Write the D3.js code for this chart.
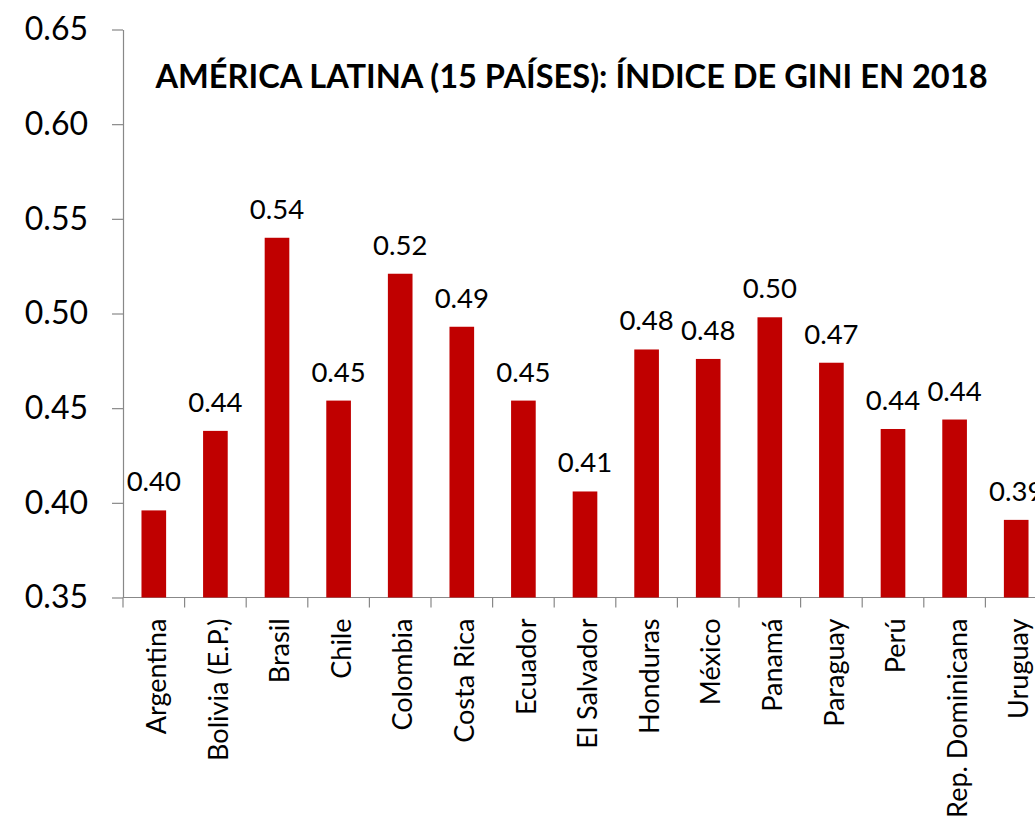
<!DOCTYPE html>
<html>
<head>
<meta charset="utf-8">
<script src="https://d3js.org/d3.v7.min.js"></script>
<style>
  body { margin: 0; background: #fff; }
  svg { display: block; font-family: Lato, "Open Sans", sans-serif; }
</style>
</head>
<body>
<script>
// Chart data
var countries = ["Argentina", "Bolivia (E.P.)", "Brasil", "Chile", "Colombia", "Costa Rica",
  "Ecuador", "El Salvador", "Honduras", "México", "Panamá", "Paraguay", "Perú",
  "Rep. Dominicana", "Uruguay"];
var gini = [0.396, 0.438, 0.540, 0.454, 0.521, 0.493, 0.454, 0.406, 0.481, 0.476,
  0.498, 0.474, 0.439, 0.444, 0.391];
var yTicks = [0.35, 0.40, 0.45, 0.50, 0.55, 0.60, 0.65];
var title = "AMÉRICA LATINA (15 PAÍSES): ÍNDICE DE GINI EN 2018";

var svgWidth = 1035;
var svgHeight = 822;

var margin = { top: 29.5, left: 123 };
var chartWidth = 924;
var chartHeight = 568;

var svg = d3.select("body")
  .append("svg")
  .attr("width", svgWidth)
  .attr("height", svgHeight);

var chartGroup = svg.append("g")
  .attr("transform", `translate(${margin.left}, ${margin.top})`);

var xScale = d3.scaleBand()
  .domain(countries)
  .range([0, chartWidth])
  .paddingInner(0.6)
  .paddingOuter(0.3);

var yScale = d3.scaleLinear()
  .domain([0.35, 0.65])
  .range([chartHeight, 0]);

// y axis
var leftAxis = d3.axisLeft(yScale)
  .tickValues(yTicks)
  .tickFormat(d3.format(".2f"))
  .tickSizeInner(11)
  .tickSizeOuter(0)
  .tickPadding(24);

var yAxis = chartGroup.append("g").call(leftAxis);
yAxis.select(".domain").attr("stroke", "#888").attr("stroke-width", 1.2);
yAxis.selectAll(".tick line").attr("stroke", "#888").attr("stroke-width", 1.2);
yAxis.selectAll(".tick text")
  .attr("fill", "#000")
  .style("font-size", "32px")
  .style("font-family", "Lato, sans-serif");

// x axis: ticks at category boundaries
var step = xScale.step();
var bounds = d3.range(countries.length + 1).map(i => i * step);

chartGroup.append("line")
  .attr("x1", 0).attr("x2", chartWidth)
  .attr("y1", chartHeight).attr("y2", chartHeight)
  .attr("stroke", "#888").attr("stroke-width", 1.2);

chartGroup.selectAll(".xtick")
  .data(bounds)
  .enter()
  .append("line")
  .attr("class", "xtick")
  .attr("x1", d => d).attr("x2", d => d)
  .attr("y1", chartHeight).attr("y2", chartHeight + 10)
  .attr("stroke", "#888").attr("stroke-width", 1.2);

chartGroup.selectAll(".xlabel")
  .data(countries)
  .enter()
  .append("text")
  .attr("class", "xlabel")
  .attr("transform", d => `translate(${xScale(d) + xScale.bandwidth() / 2}, ${chartHeight + 21}) rotate(-90)`)
  .attr("text-anchor", "end")
  .attr("dy", "0.45em")
  .style("font-size", "27px")
  .text(d => d);

// bars
chartGroup.selectAll(".bar")
  .data(gini)
  .enter()
  .append("rect")
  .attr("class", "bar")
  .attr("x", (d, i) => xScale(countries[i]))
  .attr("y", d => yScale(d))
  .attr("width", xScale.bandwidth())
  .attr("height", d => chartHeight - yScale(d))
  .attr("fill", "#C00000");

// data labels
chartGroup.selectAll(".vlabel")
  .data(gini)
  .enter()
  .append("text")
  .attr("class", "vlabel")
  .attr("x", (d, i) => xScale(countries[i]) + xScale.bandwidth() / 2)
  .attr("y", d => yScale(d) - 19)
  .attr("text-anchor", "middle")
  .style("font-size", "27.5px")
  .text(d => d3.format(".2f")(d));

// title, sized to span the same width as the original
var titleText = svg.append("text")
  .attr("x", 571.5)
  .attr("y", 88)
  .attr("text-anchor", "middle")
  .style("font-size", "30px")
  .style("font-weight", "bold")
  .text(title);

var len = titleText.node().getComputedTextLength();
if (len > 0) titleText.style("font-size", (30 * 833 / len).toFixed(1) + "px");
</script>
</body>
</html>
